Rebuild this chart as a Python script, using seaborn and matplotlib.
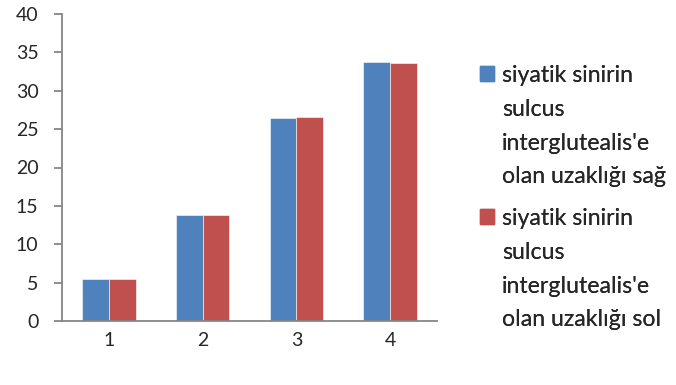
import pandas as pd
import matplotlib.pyplot as plt
import seaborn as sns
from matplotlib.patches import Rectangle

# Datos
categories = ["1", "2", "3", "4"]
sag = [5.42, 13.82, 26.47, 33.71]
sol = [5.50, 13.82, 26.56, 33.62]
series_names = [
    "siyatik sinirin sulcus interglutealis'e olan uzaklığı sağ",
    "siyatik sinirin sulcus interglutealis'e olan uzaklığı sol",
]
legend_lines = [
    ["siyatik sinirin", "sulcus", "interglutealis'e", "olan uzaklığı sağ"],
    ["siyatik sinirin", "sulcus", "interglutealis'e", "olan uzaklığı sol"],
]
colors = ["#4F81BD", "#C0504D"]

df = pd.DataFrame({
    "cat": categories * 2,
    "value": sag + sol,
    "serie": [series_names[0]] * 4 + [series_names[1]] * 4,
})

sns.set_style("white")
plt.rcParams["font.family"] = ["Lato", "DejaVu Sans"]
axis_gray = "#868686"

fig = plt.figure(figsize=(6.76, 3.85), dpi=100)
ax = fig.add_axes([62 / 676, 1 - 321 / 385, (437 - 62) / 676, (321 - 14) / 385])

sns.barplot(data=df, x="cat", y="value", hue="serie", palette=colors,
            width=0.57, ax=ax, legend=False, saturation=1,
            edgecolor="white", linewidth=0.4)

ax.set_xlim(-0.5, 3.5)
ax.set_ylim(0, 40)
ax.set_yticks(range(0, 41, 5))
ax.set_xlabel("")
ax.set_ylabel("")

for s in ["top", "right"]:
    ax.spines[s].set_visible(False)
for s in ["left", "bottom"]:
    ax.spines[s].set_color(axis_gray)
    ax.spines[s].set_linewidth(1.3)

ax.set_xticks([i - 0.5 for i in range(5)], minor=True)
ax.tick_params(axis="x", which="major", length=0, pad=8, labelsize=14)
ax.tick_params(axis="x", which="minor", length=6.5, width=1.3, color=axis_gray, direction="out")
ax.tick_params(axis="y", length=6, width=1.3, color=axis_gray, direction="out",
               labelsize=14, pad=11, left=True)

# Leyenda: una entrada por linea, el cuadro solo en la primera
tops = [65, 208]
for lines, c, top in zip(legend_lines, colors, tops):
    handles = [Rectangle((0, 0), 1, 1, color=c)]
    handles += [Rectangle((0, 0), 1, 1, alpha=0) for _ in lines[1:]]
    leg = fig.legend(handles, lines, loc="upper left",
                     bbox_to_anchor=(480 / 676, 1 - top / 385), frameon=False,
                     fontsize=16.7, handlelength=0.6, handleheight=0.6,
                     handletextpad=0.34, labelspacing=0.55,
                     borderpad=0, borderaxespad=0)
    fig.add_artist(leg)

fig.savefig("out.png", dpi=100)
